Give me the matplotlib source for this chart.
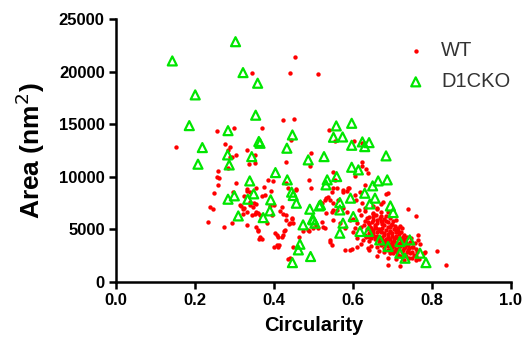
import matplotlib.pyplot as plt

plt.rcParams['font.family'] = ['Liberation Sans', 'DejaVu Sans']

# WT (red dots): circularity, area
wt_points = [
    (0.454, 21400), (0.344, 19900), (0.440, 19900), (0.511, 19800), (0.424, 15400),
    (0.450, 15500), (0.370, 14600), (0.299, 14600), (0.255, 14300), (0.152, 12800),
    (0.276, 13100), (0.444, 13500), (0.289, 12800), (0.285, 12500), (0.331, 12500),
    (0.352, 12100), (0.303, 12100), (0.293, 11900), (0.540, 14400), (0.556, 13400),
    (0.603, 13400), (0.624, 13200), (0.290, 11850), (0.337, 11200), (0.352, 11300),
    (0.494, 12300), (0.432, 11400), (0.491, 11000), (0.284, 10800), (0.259, 10500),
    (0.255, 9950), (0.262, 9900), (0.304, 9440), (0.386, 9700), (0.397, 9630),
    (0.489, 9700), (0.494, 8900), (0.259, 9200), (0.249, 8430), (0.297, 8580),
    (0.331, 8650), (0.356, 8900), (0.375, 9000), (0.394, 8680), (0.436, 8900),
    (0.432, 9380), (0.457, 8800), (0.238, 7160), (0.246, 6900), (0.234, 5730),
    (0.274, 5200), (0.293, 5580), (0.316, 7220), (0.325, 7060), (0.333, 6680),
    (0.321, 6460), (0.339, 7320), (0.348, 7100), (0.356, 7410), (0.354, 6680),
    (0.365, 6370), (0.331, 5420), (0.356, 5260), (0.360, 4850), (0.365, 4310),
    (0.369, 4060), (0.382, 5580), (0.396, 6370), (0.377, 8270), (0.390, 7220),
    (0.401, 7290), (0.415, 6750), (0.424, 6460), (0.432, 5890), (0.441, 5580),
    (0.447, 6050), (0.428, 4940), (0.403, 4630), (0.411, 4310), (0.424, 4470),
    (0.407, 3520), (0.411, 3360), (0.441, 2250), (0.463, 4310), (0.489, 4880),
    (0.506, 5420), (0.624, 11440), (0.622, 11030), (0.633, 10710), (0.639, 10390),
    (0.605, 10080), (0.550, 10490), (0.554, 9700), (0.549, 8910), (0.575, 8580),
    (0.584, 8650), (0.591, 8910), (0.689, 8430), (0.533, 7960), (0.543, 7800),
    (0.563, 7800), (0.516, 7630), (0.609, 7800), (0.550, 6840), (0.546, 6680),
    (0.560, 6840), (0.533, 6530), (0.521, 5730), (0.512, 5100), (0.529, 5100),
    (0.550, 5890), (0.592, 5890), (0.605, 5100), (0.542, 3990), (0.546, 3520),
    (0.580, 3040), (0.597, 3110), (0.639, 3200), (0.740, 6910), (0.759, 6270),
    (0.765, 4470), (0.765, 3990), (0.753, 3300), (0.782, 2880), (0.812, 2980),
    (0.835, 1620), (0.689, 1620), (0.719, 1520), (0.761, 2090), (0.331, 8810),
    (0.339, 8560), (0.325, 8210), (0.369, 8180), (0.420, 7100), (0.430, 6370),
    (0.445, 5960), (0.439, 5510), (0.426, 4850), (0.407, 4470), (0.420, 4250),
    (0.359, 4940), (0.362, 4060), (0.401, 3360), (0.412, 3520), (0.436, 2160),
    (0.314, 7320), (0.322, 6910), (0.339, 7630), (0.350, 7540), (0.352, 6460),
    (0.344, 6370), (0.360, 6530), (0.457, 8750), (0.521, 7480), (0.529, 7800),
    (0.538, 8110), (0.546, 8580), (0.559, 8910), (0.575, 8750), (0.588, 8910),
    (0.550, 7480), (0.575, 7000), (0.584, 6680), (0.605, 8270), (0.622, 7480),
    (0.618, 8580), (0.630, 9220), (0.449, 5580), (0.474, 4790), (0.487, 4940),
    (0.500, 5100), (0.525, 5260), (0.542, 3830), (0.592, 3040), (0.449, 3360),
    (0.567, 5580), (0.580, 5100), (0.677, 7630), (0.660, 7000), (0.651, 6530),
    (0.685, 8370),
    # dense cluster
    (0.62, 6400), (0.63, 6700), (0.64, 6200), (0.65, 6500), (0.66, 6900),
    (0.67, 6300), (0.68, 6000), (0.69, 6600), (0.63, 5800), (0.64, 5500),
    (0.65, 5900), (0.66, 5600), (0.67, 5800), (0.68, 5400), (0.69, 5700),
    (0.70, 5500), (0.71, 5900), (0.72, 5300), (0.62, 5200), (0.635, 5000),
    (0.645, 4800), (0.655, 5200), (0.665, 5000), (0.675, 5100), (0.685, 4900),
    (0.695, 5200), (0.705, 5000), (0.715, 4800), (0.725, 5100), (0.63, 4500),
    (0.64, 4300), (0.65, 4600), (0.66, 4400), (0.67, 4700), (0.68, 4500),
    (0.69, 4300), (0.70, 4600), (0.71, 4400), (0.72, 4200), (0.73, 4500),
    (0.625, 4000), (0.64, 3900), (0.655, 4100), (0.665, 3800), (0.675, 4000),
    (0.685, 3700), (0.695, 4100), (0.705, 3900), (0.715, 3600), (0.725, 3900),
    (0.735, 3700), (0.645, 3400), (0.66, 3300), (0.67, 3500), (0.68, 3200),
    (0.69, 3400), (0.70, 3300), (0.71, 3100), (0.72, 3400), (0.73, 3200),
    (0.74, 3000), (0.665, 2900), (0.68, 2800), (0.695, 2700), (0.705, 2900),
    (0.715, 2600), (0.725, 2800), (0.735, 2500), (0.745, 2700), (0.69, 2300),
    (0.71, 2200), (0.73, 2100), (0.75, 2300), (0.76, 2500), (0.655, 5400),
    (0.675, 5500), (0.695, 4700), (0.705, 4200), (0.685, 4100), (0.665, 4900),
    (0.645, 5100), (0.675, 4300), (0.69, 3900), (0.70, 3600), (0.72, 3700),
    (0.68, 3600), (0.66, 4200), (0.71, 4900), (0.73, 4100), (0.74, 3500),
    (0.75, 3300), (0.76, 3100), (0.75, 2800), (0.77, 3600), (0.78, 2700),
    (0.60, 6000), (0.61, 5600), (0.60, 4700), (0.61, 4200), (0.615, 6800),
    (0.63, 7000), (0.65, 7200), (0.67, 7400), (0.62, 3600), (0.64, 3000),
    (0.66, 2500), (0.61, 3300),
    # dense core, second pass
    (0.636, 6050), (0.648, 5700), (0.652, 6150), (0.661, 5850), (0.668, 6100),
    (0.674, 5650), (0.683, 5800), (0.688, 5250), (0.697, 5450), (0.702, 5750),
    (0.643, 5250), (0.651, 4950), (0.659, 5150), (0.662, 4700), (0.671, 4850),
    (0.679, 4650), (0.688, 4550), (0.693, 4850), (0.699, 4400), (0.708, 4700),
    (0.712, 4150), (0.718, 4550), (0.722, 4000), (0.728, 4300), (0.733, 3850),
    (0.654, 4400), (0.663, 4050), (0.672, 4150), (0.678, 3850), (0.686, 3950),
    (0.692, 3600), (0.698, 3800), (0.703, 3450), (0.709, 3650), (0.716, 3300),
    (0.722, 3550), (0.727, 3050), (0.732, 3350), (0.738, 2850), (0.742, 3250),
    (0.688, 3050), (0.697, 3150), (0.702, 2750), (0.712, 2850), (0.719, 2500),
    (0.641, 4650), (0.634, 4250), (0.647, 4150), (0.629, 5400), (0.638, 5650),
    (0.658, 6400), (0.672, 6600), (0.683, 6250), (0.694, 6100), (0.706, 5350),
    (0.714, 5150), (0.721, 4700), (0.736, 4300), (0.744, 3800), (0.748, 4150),
    (0.757, 3650), (0.754, 2600), (0.763, 2850), (0.768, 2200), (0.741, 2250),
]

# D1CKO (green open triangles)
ko_points = [
    (0.303, 22840), (0.143, 21010), (0.322, 19900), (0.359, 18890), (0.201, 17780),
    (0.354, 15850), (0.186, 14860), (0.284, 14380), (0.447, 13970), (0.365, 13180),
    (0.362, 13350), (0.219, 12770), (0.433, 12710), (0.283, 12070), (0.344, 11910),
    (0.558, 14830), (0.597, 15080), (0.551, 13750), (0.574, 13780), (0.597, 12990),
    (0.624, 13310), (0.641, 13240), (0.630, 12860), (0.208, 11190), (0.287, 11120),
    (0.404, 10390), (0.434, 9700), (0.487, 11600), (0.339, 9600), (0.284, 7860),
    (0.300, 8180), (0.349, 8370), (0.334, 7860), (0.392, 7800), (0.445, 8530),
    (0.449, 8210), (0.457, 7480), (0.491, 6910), (0.390, 6750), (0.310, 6270),
    (0.373, 6110), (0.498, 5960), (0.474, 5420), (0.504, 5580), (0.466, 3580),
    (0.462, 3040), (0.493, 2410), (0.447, 1830), (0.515, 7220), (0.527, 11910),
    (0.684, 11980), (0.597, 10900), (0.614, 10650), (0.535, 9700), (0.559, 10010),
    (0.532, 9220), (0.664, 9600), (0.687, 9700), (0.650, 9130), (0.630, 8430),
    (0.594, 7960), (0.656, 7960), (0.643, 7410), (0.567, 7540), (0.518, 7320),
    (0.695, 7220), (0.567, 6840), (0.702, 6590), (0.500, 5890), (0.601, 6210),
    (0.575, 5580), (0.567, 4630), (0.639, 4790), (0.618, 4790), (0.689, 3360),
    (0.719, 2730), (0.732, 2250), (0.744, 3990), (0.770, 2730), (0.785, 1830),
    (0.719, 3830), (0.668, 3990),
]

x_ticks = [0.0, 0.2, 0.4, 0.6, 0.8, 1.0]
y_ticks = [0, 5000, 10000, 15000, 20000, 25000]

wt_x = [p[0] for p in wt_points]
wt_y = [p[1] for p in wt_points]
ko_x = [p[0] for p in ko_points]
ko_y = [p[1] for p in ko_points]

fig = plt.figure(figsize=(5.24, 3.45), dpi=100)
ax = fig.add_axes([0.221, 0.183, 0.754, 0.762])

ax.scatter(wt_x, wt_y, s=10, color='#ff0000', linewidths=0, label='WT', zorder=2)
ax.scatter(ko_x, ko_y, s=42, marker='^', facecolors='none', edgecolors='#00e600',
           linewidths=1.6, label='D1CKO', zorder=3)

ax.set_xlim(0, 1.0)
ax.set_ylim(0, 25000)
ax.set_xticks(x_ticks)
ax.set_yticks(y_ticks)
ax.set_xticklabels(['%.1f' % t for t in x_ticks])
ax.set_yticklabels([str(t) for t in y_ticks])

for s in ['top', 'right']:
    ax.spines[s].set_visible(False)
for s in ['left', 'bottom']:
    ax.spines[s].set_linewidth(1.8)
ax.tick_params(width=1.8, length=5, labelsize=12, pad=3)
for lab in ax.get_xticklabels() + ax.get_yticklabels():
    lab.set_fontweight('bold')

ax.set_xlabel('Circularity', fontsize=14.5, fontweight='bold', labelpad=6)
ax.set_ylabel('Area (nm$^2$)', fontsize=19, fontweight='bold')
ax.yaxis.set_label_coords(-0.175, 0.5)

leg = ax.legend(loc='upper left', bbox_to_anchor=(0.675, 0.985), frameon=False,
                fontsize=14.5, handletextpad=0.5, labelspacing=0.6, markerscale=1.0,
                handlelength=1.5)
for t in leg.get_texts():
    t.set_color('#333333')

fig.savefig('out.png', dpi=100)
